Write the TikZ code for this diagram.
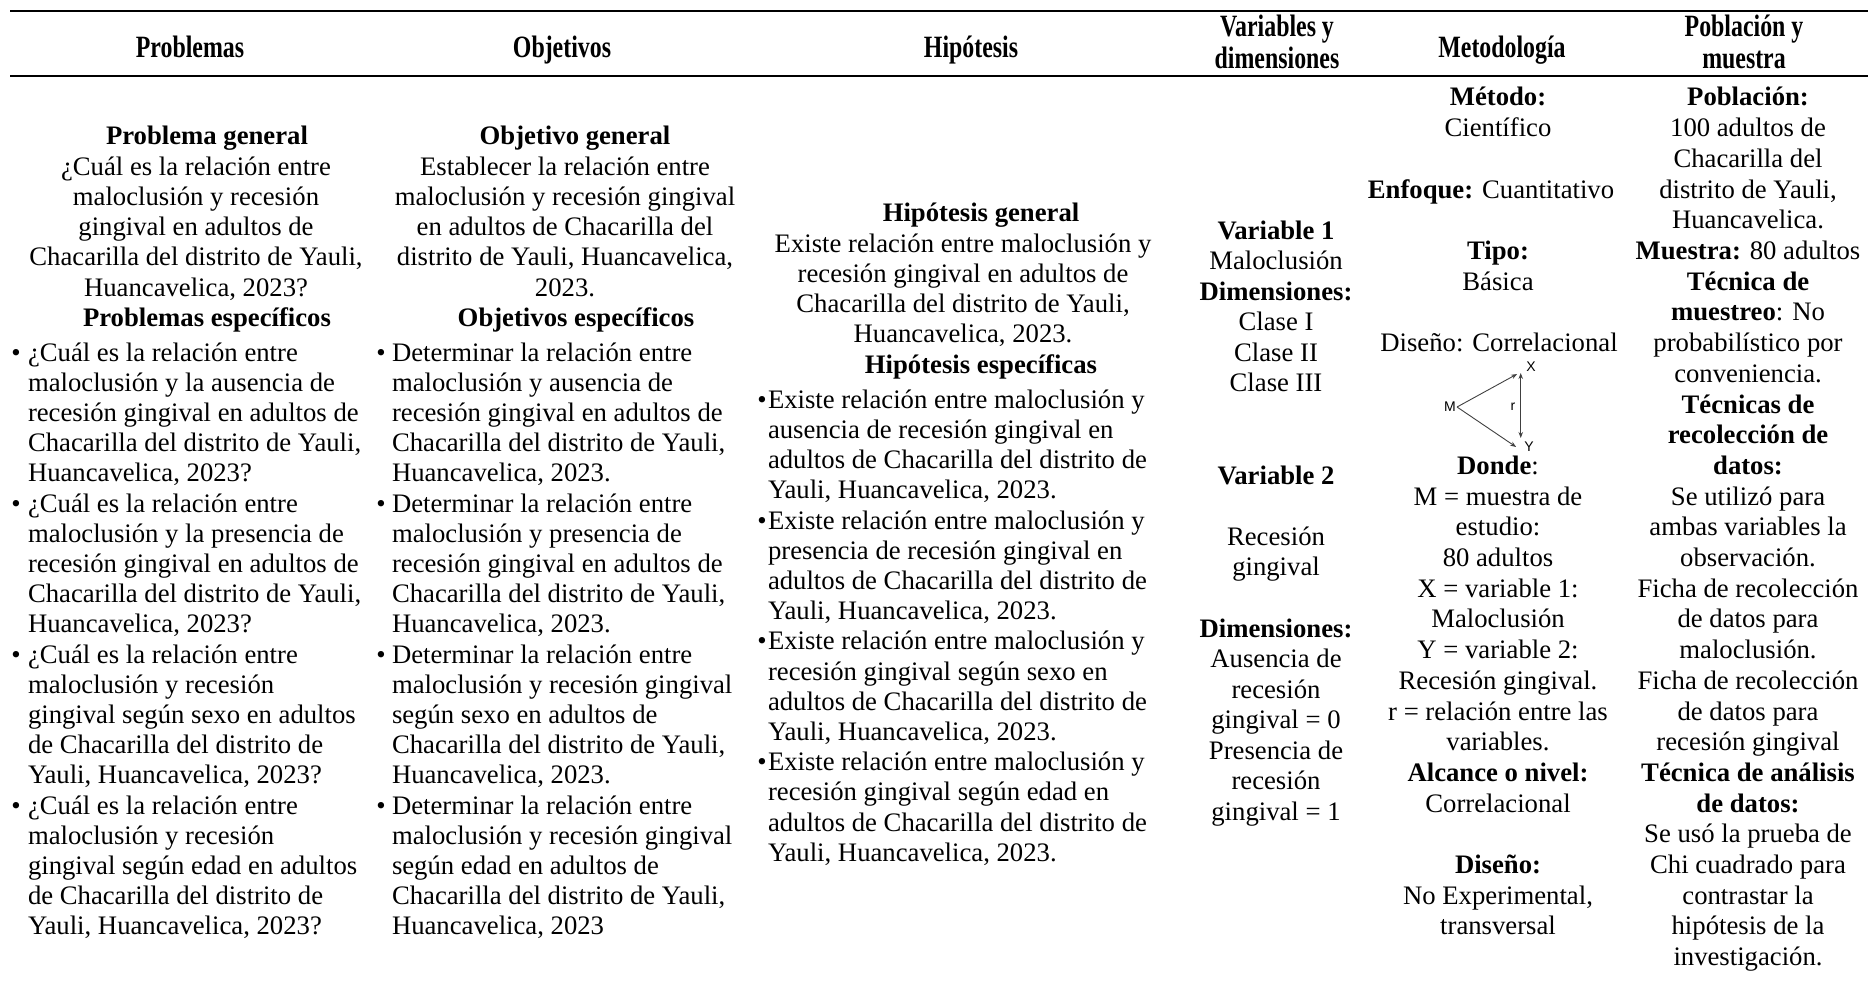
\documentclass[tikz,border=0pt]{standalone}
\usepackage{fontspec}
\setmainfont{Liberation Serif}
\newfontfamily\hdfont[FakeStretch=0.77]{Liberation Serif}
\newfontfamily\dgfont{Liberation Sans}
\usetikzlibrary{arrows.meta}
\tikzset{
 txt/.style={font=\fontsize{26.7}{30.5}\selectfont, inner sep=0pt, outer sep=0pt},
 hd/.style={font=\hdfont\bfseries\fontsize{31}{33}\selectfont, inner sep=0pt, anchor=base},
 rulestyle/.style={line width=2.5pt},
 dg/.style={font=\dgfont\fontsize{14}{16}\selectfont, inner sep=1pt},
 dgarrow/.style={draw=black!75, line width=0.9pt, -{Stealth[length=6pt,width=4.5pt]}},
}
\def\lstep{30.2}
\newcommand\txtlines[5]{\foreach \t [count=\i from 0] in {#5} {\node[txt,anchor=#4] (#1\i) at (#2,{#3+\i*\lstep}) {\t};}}
\begin{document}
\begin{tikzpicture}[x=1pt,y=-1pt]
\useasboundingbox (0,0) rectangle (1868,995);
% rules
\coordinate (r1a) at (10,11); \coordinate (r1b) at (1868,11);
\coordinate (r2a) at (10,76); \coordinate (r2b) at (1868,76);
\draw[rulestyle] (r1a) -- (r1b);
\draw[rulestyle] (r2a) -- (r2b);
% header
\node[hd] (hP) at (190,58) {Problemas};
\node[hd] (hO) at (562,58) {Objetivos};
\node[hd] (hH) at (971,58) {Hipótesis};
\node[hd] (hV1) at (1277,36.5) {Variables y};
\node[hd] (hV2) at (1277,68.5) {dimensiones};
\node[hd] (hM) at (1502,58) {Metodología};
\node[hd] (hPm1) at (1744,36.5) {Población y};
\node[hd] (hPm2) at (1744,68.5) {muestra};
% column 1
\node[txt,anchor=base] (pg) at (207,145) {\textbf{Problema general}};
\txtlines{pgl}{196}{175.2}{base}{{¿Cuál es la relación entre},{maloclusión y recesión},{gingival en adultos de},{Chacarilla del distrito de Yauli,},{Huancavelica, 2023?}}
\node[txt,anchor=base] (pe) at (207,326.2) {\textbf{Problemas específicos}};
\txtlines{pel}{28}{361}{base west}{{¿Cuál es la relación entre},{maloclusión y la ausencia de},{recesión gingival en adultos de},{Chacarilla del distrito de Yauli,},{Huancavelica, 2023?},{¿Cuál es la relación entre},{maloclusión y la presencia de},{recesión gingival en adultos de},{Chacarilla del distrito de Yauli,},{Huancavelica, 2023?},{¿Cuál es la relación entre},{maloclusión y recesión},{gingival según sexo en adultos},{de Chacarilla del distrito de},{Yauli, Huancavelica, 2023?},{¿Cuál es la relación entre},{maloclusión y recesión},{gingival según edad en adultos},{de Chacarilla del distrito de},{Yauli, Huancavelica, 2023?}}
\foreach \k in {0,1,2,3} {\node[txt,anchor=base] (pb\k) at (16,{361+\k*151}) {•};}
% column 2
\node[txt,anchor=base] (og) at (575,145) {\textbf{Objetivo general}};
\txtlines{ogl}{565}{175.2}{base}{{Establecer la relación entre},{maloclusión y recesión gingival},{en adultos de Chacarilla del},{distrito de Yauli, Huancavelica,},{2023.}}
\node[txt,anchor=base] (oe) at (576,326.2) {\textbf{Objetivos específicos}};
\txtlines{oel}{392}{361}{base west}{{Determinar la relación entre},{maloclusión y ausencia de},{recesión gingival en adultos de},{Chacarilla del distrito de Yauli,},{Huancavelica, 2023.},{Determinar la relación entre},{maloclusión y presencia de},{recesión gingival en adultos de},{Chacarilla del distrito de Yauli,},{Huancavelica, 2023.},{Determinar la relación entre},{maloclusión y recesión gingival},{según sexo en adultos de},{Chacarilla del distrito de Yauli,},{Huancavelica, 2023.},{Determinar la relación entre},{maloclusión y recesión gingival},{según edad en adultos de},{Chacarilla del distrito de Yauli,},{Huancavelica, 2023}}
\foreach \k in {0,1,2,3} {\node[txt,anchor=base] (ob\k) at (381,{361+\k*151}) {•};}
% column 3
\node[txt,anchor=base] (hg) at (981,222) {\textbf{Hipótesis general}};
\txtlines{hgl}{963}{252.2}{base}{{Existe relación entre maloclusión y},{recesión gingival en adultos de},{Chacarilla del distrito de Yauli,},{Huancavelica, 2023.}}
\node[txt,anchor=base] (he) at (981,373) {\textbf{Hipótesis específicas}};
\txtlines{hel}{768}{408.2}{base west}{{Existe relación entre maloclusión y},{ausencia de recesión gingival en},{adultos de Chacarilla del distrito de},{Yauli, Huancavelica, 2023.},{Existe relación entre maloclusión y},{presencia de recesión gingival en},{adultos de Chacarilla del distrito de},{Yauli, Huancavelica, 2023.},{Existe relación entre maloclusión y},{recesión gingival según sexo en},{adultos de Chacarilla del distrito de},{Yauli, Huancavelica, 2023.},{Existe relación entre maloclusión y},{recesión gingival según edad en},{adultos de Chacarilla del distrito de},{Yauli, Huancavelica, 2023.}}
\foreach \k in {0,1,2,3} {\node[txt,anchor=base] (hb\k) at (762,{408.2+\k*120.8}) {•};}
% column 4
\def\lstep{30.5}
\txtlines{v1}{1276}{239}{base}{{\textbf{Variable 1}},{Maloclusión},{\textbf{Dimensiones:}},{Clase I},{Clase II},{Clase III}}
\node[txt,anchor=base] (v2) at (1276,484) {\textbf{Variable 2}};
\txtlines{v2r}{1276}{545}{base}{{Recesión},{gingival}}
\txtlines{v2d}{1276}{637}{base}{{\textbf{Dimensiones:}},{Ausencia de},{recesión},{gingival = 0},{Presencia de},{recesión},{gingival = 1}}
% column 5
\def\lstep{30.7}
\txtlines{m1}{1498}{106}{base}{{\textbf{Método:}},{Científico}}
\node[txt,anchor=base] (enf) at (1491,198.1) {\textbf{Enfoque:} Cuantitativo};
\txtlines{m2}{1498}{259.5}{base}{{\textbf{Tipo:}},{Básica}}
\node[txt,anchor=base] (dis) at (1499,351.6) {Diseño: Correlacional};
\node[dg] (M) at (1450,407) {M};
\node[dg] (X) at (1531,367) {X};
\node[dg] (Y) at (1529,447) {Y};
\node[dg] (r) at (1513,407) {r};
\draw[dgarrow] (M.east) -- ([shift={(-8,1)}]X.south west);
\draw[dgarrow] (M.east) -- ([shift={(-7,0)}]Y.west);
\draw[dgarrow,{Stealth[length=6pt,width=4.5pt]}-{Stealth[length=6pt,width=4.5pt]}] ([shift={(-4.4,0)}]X.south west) -- ([shift={(-2.4,-3)}]Y.north west);
\node[txt,anchor=base] (don) at (1498,474.4) {\textbf{Donde}:};
\txtlines{m3}{1498}{505.1}{base}{{M = muestra de},{estudio:},{80 adultos},{X = variable 1:},{Maloclusión},{Y = variable 2:},{Recesión gingival.},{r = relación entre las},{variables.},{\textbf{Alcance o nivel:}},{Correlacional}}
\txtlines{m4}{1498}{873.5}{base}{{\textbf{Diseño:}},{No Experimental,},{transversal}}
% column 6
\txtlines{p}{1748}{106}{base}{{\textbf{Población:}},{100 adultos de},{Chacarilla del},{distrito de Yauli,},{Huancavelica.},{\textbf{Muestra:} 80 adultos},{\textbf{Técnica de}},{\textbf{muestreo}: No},{probabilístico por},{conveniencia.},{\textbf{Técnicas de}},{\textbf{recolección de}},{\textbf{datos:}},{Se utilizó para},{ambas variables la},{observación.},{Ficha de recolección},{de datos para},{maloclusión.},{Ficha de recolección},{de datos para},{recesión gingival},{\textbf{Técnica de análisis}},{\textbf{de datos:}},{Se usó la prueba de},{Chi cuadrado para},{contrastar la},{hipótesis de la},{investigación.}}
\end{tikzpicture}
\end{document}
